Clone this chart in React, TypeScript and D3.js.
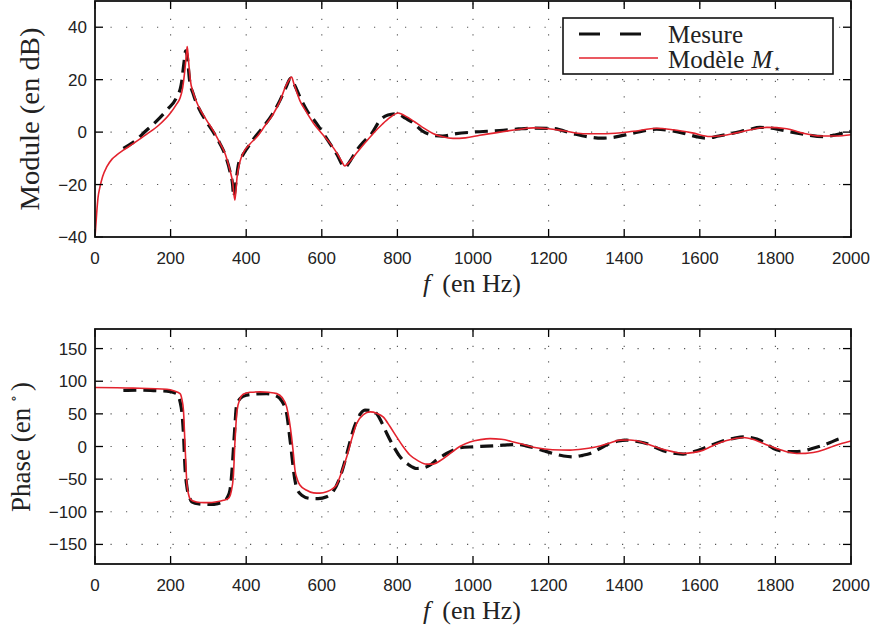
import React from "react";
import * as d3 from "d3";

// ---------- DATA ----------
const xTicks = [0, 200, 400, 600, 800, 1000, 1200, 1400, 1600, 1800, 2000];
const magTicks = [-40, -20, 0, 20, 40];
const phaseTicks = [-150, -100, -50, 0, 50, 100, 150];

const legendLabels = ["Mesure", "Modèle"];

// Module — modèle (red)
const modelMagF = [0, 2, 4.4, 8, 13, 20, 31, 45, 57, 75, 100, 137, 170, 198, 215, 225, 232, 238, 242, 244, 247, 252, 260, 275, 295, 315, 331, 345, 357, 364, 370, 376, 384, 392, 410, 428, 450, 472, 490, 503, 514, 520, 526, 542, 560, 578, 600, 622, 640, 652, 661, 670, 692, 715, 736, 760, 780, 802, 825, 851, 870, 894, 920, 947, 980, 1018, 1071, 1120, 1160, 1200, 1240, 1291, 1353, 1424, 1486, 1530, 1580, 1627, 1660, 1700, 1777, 1830, 1870, 1920, 1960, 2000];
const modelMagV = [-40, -36, -31, -25, -21, -17, -13.3, -10.3, -8.8, -6.9, -4.5, -0.8, 2.8, 7, 10.5, 13, 17, 24, 30, 32.6, 28, 20, 15, 9.5, 4.6, 0, -4.3, -8.5, -14.5, -19, -26, -17, -11, -8, -4.5, -1.9, 2.5, 7, 12, 17, 20, 21, 18.5, 12, 7.5, 3.4, -0.5, -4.3, -8, -11, -12.9, -11.8, -8, -4, -0.5, 3, 5.5, 7.3, 5.8, 3.4, 1.5, -0.5, -1.8, -2.4, -2.2, -1.2, 0, 1, 1.6, 1.3, 0.5, -0.6, -0.6, 0.3, 1.5, 0.9, -0.3, -1.7, -1.3, -0.2, 1.8, 1.3, -0.3, -1.5, -1.5, -1];

// Module — mesure (black dashed)
const measMagF = [75, 100, 137, 160, 190, 215, 228, 235, 240, 244, 250, 260, 275, 295, 315, 331, 345, 357, 364, 367, 372, 380, 392, 401, 420, 445, 470, 489, 505, 518, 528, 545, 560, 585, 613, 640, 661, 675, 692, 712, 732, 754, 775, 800, 821, 842, 865, 894, 920, 956, 1000, 1071, 1120, 1160, 1210, 1265, 1310, 1340, 1371, 1424, 1486, 1520, 1556, 1590, 1618, 1650, 1688, 1730, 1759, 1790, 1812, 1866, 1927, 1960, 1988, 2000];
const measMagV = [-6.2, -4, 0.8, 3.8, 8.4, 13, 18, 26, 31, 29, 20, 14.5, 9, 4, -0.5, -4.5, -9, -15, -20, -24.7, -20, -12, -8.5, -6.5, -2.5, 2, 7, 12, 17, 20.6, 18, 12.5, 8.4, 3.5, -2.5, -8.5, -13.4, -11, -7, -3.5, -0.5, 4.5, 6.5, 7, 5.3, 3.5, 0.5, -1.2, -1.5, -0.6, 0, 0.6, 1.2, 1.5, 1.4, -0.6, -1.9, -2.3, -2, -0.4, 1.1, 0.6, -0.4, -1.7, -2.3, -1.5, -0.4, 1, 1.8, 1.5, 0.9, -0.6, -1.7, -1, 0, 0.3];

// Phase — modèle (red)
const modelPhF = [0, 100, 190, 210, 225, 230, 234, 238, 241, 243, 247, 251, 260, 278, 300, 322, 340, 353, 360, 366, 370, 373, 376, 383, 392, 410, 437, 460, 481, 495, 507, 514, 520, 525, 529, 535, 542, 560, 578, 595, 613, 628, 639, 652, 666, 680, 692, 710, 728, 745, 763, 780, 798, 815, 833, 855, 877, 895, 915, 939, 965, 992, 1020, 1045, 1075, 1107, 1140, 1168, 1210, 1257, 1295, 1327, 1360, 1389, 1415, 1433, 1465, 1495, 1525, 1556, 1585, 1609, 1630, 1653, 1685, 1715, 1740, 1759, 1780, 1803, 1830, 1856, 1880, 1900, 1930, 1953, 1975, 2000];
const modelPhV = [90.3, 89.5, 87.8, 85, 81, 72, 55.6, 4.6, -35, -56.6, -72, -79.6, -83.5, -85.7, -86, -84.7, -82.5, -79.6, -70, -46, 4.6, 35, 55.6, 72, 80, 83, 83.7, 83, 81, 75, 60.7, 40, 14.8, -12, -36, -50, -59, -67, -71, -71.5, -69.4, -65, -59, -40, -15.8, 13, 35, 49, 53, 51, 45, 31, 14.8, 0, -13, -22, -27, -27, -21, -11, 0, 7, 10.5, 12, 11, 7, 2, -2, -5, -5.6, -3.5, -0.5, 5, 9.7, 10, 8.7, 3, -3, -7.5, -10.7, -9, -5.6, 0, 5.6, 11, 13.8, 11, 7, 2, -3, -8, -10.7, -10.5, -9.2, -4.5, 0.5, 4.5, 8.5];

// Phase — mesure (black dashed)
const measPhF = [75, 120, 160, 190, 216, 228, 234, 238, 244, 250, 256, 275, 304, 325, 339, 350, 357, 362, 366, 370, 374, 385, 401, 425, 454, 475, 489, 499, 507, 515, 522, 525, 534, 548, 569, 590, 613, 630, 645, 657, 670, 683, 698, 714, 730, 745, 760, 772, 790, 807, 830, 851, 870, 886, 905, 930, 966, 1000, 1036, 1080, 1116, 1140, 1168, 1190, 1212, 1240, 1265, 1290, 1310, 1336, 1362, 1385, 1406, 1430, 1459, 1485, 1512, 1535, 1556, 1580, 1609, 1635, 1662, 1690, 1715, 1740, 1759, 1778, 1795, 1812, 1830, 1850, 1874, 1895, 1918, 1945, 1971, 1985];
const measPhV = [86, 86.5, 85.5, 84.7, 81, 60, 20, -31, -65, -78, -84.7, -88, -88.8, -87.5, -84.7, -78, -67, -40, -5.6, 30, 60.7, 74, 78.6, 80.5, 81, 78.5, 73.5, 65, 50.5, 15, -20, -36, -64, -75, -79.6, -80, -77, -69, -52, -31, -3, 25, 46, 55.6, 55, 50.5, 35, 20, 0, -15.8, -28, -33.7, -32.5, -28.6, -20, -10.7, -2, -0.5, 0.5, 2, 3, 1, -3, -7, -10.7, -14.5, -15.8, -13.5, -10.7, -3, 4.6, 8.5, 9.7, 8, 4.6, -2, -8, -10.5, -11.7, -8.5, -3, 3, 8.7, 12.5, 14.8, 13, 9.7, 3, -3, -6.5, -8, -8, -6.6, -3.5, 0.5, 6, 12.2, 13.5];

// ---------- LAYOUT ----------
const W = 870;
const H = 632;
const X0 = 95;
const X1 = 851;
const TOP = { y0: 1, y1: 237, domain: [-40, 50] as [number, number] };
const BOT = { y0: 329, y1: 564, domain: [-180, 180] as [number, number] };
const RED = "#e3222d";
const TICK = 8;
const SERIF = "'Liberation Serif', 'DejaVu Serif', serif";
const SANS = "'Liberation Sans', Arial, sans-serif";

const x = d3.scaleLinear().domain([0, 2000]).range([X0, X1]);

function zip(f: number[], v: number[]) {
  return f.map((ff, i) => [ff, v[i]] as [number, number]);
}

function Panel(props: {
  y0: number;
  y1: number;
  domain: [number, number];
  yTicks: number[];
  meas: [number, number][];
  model: [number, number][];
  clipId: string;
}) {
  const { y0, y1, domain, yTicks, meas, model, clipId } = props;
  const y = d3.scaleLinear().domain(domain).range([y1, y0]);
  const line = d3
    .line<[number, number]>()
    .x((d) => x(d[0]))
    .y((d) => y(d[1]))
    .curve(d3.curveMonotoneX);
  const grid = "#555";
  return (
    <g>
      <defs>
        <clipPath id={clipId}>
          <rect x={X0} y={y0} width={X1 - X0} height={y1 - y0} />
        </clipPath>
      </defs>
      {xTicks
        .filter((t) => t > 0 && t < 2000)
        .map((t) => (
          <line
            key={"gx" + t}
            x1={x(t)}
            x2={x(t)}
            y1={y1}
            y2={y0}
            stroke={grid}
            strokeWidth={1.1}
            strokeDasharray="1.2,14.3"
          />
        ))}
      {yTicks
        .filter((t) => y(t) > y0 + 2 && y(t) < y1 - 2)
        .map((t) => (
          <line
            key={"gy" + t}
            x1={X0}
            x2={X1}
            y1={y(t)}
            y2={y(t)}
            stroke={grid}
            strokeWidth={1.1}
            strokeDasharray="1.2,14.3"
          />
        ))}
      <g clipPath={`url(#${clipId})`}>
        <path
          d={line(meas) || ""}
          fill="none"
          stroke="#111"
          strokeWidth={3.2}
          strokeDasharray="13,7"
        />
        <path d={line(model) || ""} fill="none" stroke={RED} strokeWidth={1.6} />
      </g>
      {xTicks.map((t) => (
        <g key={"tx" + t}>
          <line x1={x(t)} x2={x(t)} y1={y1} y2={y1 - TICK} stroke="#000" strokeWidth={1.3} />
          <line x1={x(t)} x2={x(t)} y1={y0} y2={y0 + TICK} stroke="#000" strokeWidth={1.3} />
          <text x={x(t)} y={y1 + 27} textAnchor="middle" fontFamily={SANS} fontSize={17} fill="#222">
            {t}
          </text>
        </g>
      ))}
      {yTicks.map((t) => (
        <g key={"ty" + t}>
          <line x1={X0} x2={X0 + TICK} y1={y(t)} y2={y(t)} stroke="#000" strokeWidth={1.3} />
          <line x1={X1} x2={X1 - TICK} y1={y(t)} y2={y(t)} stroke="#000" strokeWidth={1.3} />
          <text x={X0 - 8} y={y(t) + 6} textAnchor="end" fontFamily={SANS} fontSize={17} fill="#222">
            {t < 0 ? "\u2212" + Math.abs(t) : String(t)}
          </text>
        </g>
      ))}
      <rect
        x={X0}
        y={y0}
        width={X1 - X0}
        height={y1 - y0}
        fill="none"
        stroke="#111"
        strokeWidth={1.8}
      />
      <text
        x={472}
        y={y1 + 55}
        textAnchor="middle"
        fontFamily={SERIF}
        fontSize={26}
        fill="#222"
      >
        <tspan fontStyle="italic">f</tspan>
        <tspan dx={12}>(en Hz)</tspan>
      </text>
    </g>
  );
}

export default function App() {
  return (
    <svg
      width={W}
      height={H}
      viewBox={`0 0 ${W} ${H}`}
      style={{ position: "absolute", left: 0, top: 0, background: "#fff" }}
    >
      <rect x={0} y={0} width={W} height={H} fill="#fff" />
      <Panel
        y0={TOP.y0}
        y1={TOP.y1}
        domain={TOP.domain}
        yTicks={magTicks}
        meas={zip(measMagF, measMagV)}
        model={zip(modelMagF, modelMagV)}
        clipId="clipTop"
      />
      <Panel
        y0={BOT.y0}
        y1={BOT.y1}
        domain={BOT.domain}
        yTicks={phaseTicks}
        meas={zip(measPhF, measPhV)}
        model={zip(modelPhF, modelPhV)}
        clipId="clipBot"
      />
      <text
        transform="translate(39,119) rotate(-90)"
        textAnchor="middle"
        fontFamily={SERIF}
        fontSize={27}
        fill="#222"
        textLength={183}
        lengthAdjust="spacingAndGlyphs"
      >
        Module (en dB)
      </text>
      <text
        transform="translate(30,447) rotate(-90)"
        textAnchor="middle"
        fontFamily={SERIF}
        fontSize={27}
        fill="#222"
      >
        Phase (en
        <tspan fontSize={14} dy={-12} dx={6}>
          ∘
        </tspan>
        <tspan dy={12} dx={4}>
          )
        </tspan>
      </text>
      <g>
        <rect x={563} y={18} width={270} height={56} fill="#fff" stroke="#111" strokeWidth={1.6} />
        <line
          x1={579}
          x2={658}
          y1={34}
          y2={34}
          stroke="#111"
          strokeWidth={3.2}
          strokeDasharray="21,20"
        />
        <line x1={579} x2={658} y1={58} y2={58} stroke={RED} strokeWidth={1.6} />
        <text x={668} y={43} fontFamily={SERIF} fontSize={25} fill="#222">
          {legendLabels[0]}
        </text>
        <text x={668} y={68} fontFamily={SERIF} fontSize={25} fill="#222">
          {legendLabels[1]}
          <tspan dx={7} fontStyle="italic">
            M
          </tspan>
          <tspan fontSize={13} dx={1} dy={5}>
            ⋆
          </tspan>
        </text>
      </g>
    </svg>
  );
}
